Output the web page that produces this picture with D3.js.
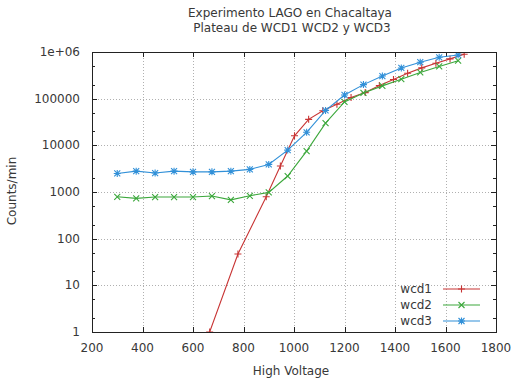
<!DOCTYPE html>
<html>
<head>
<meta charset="utf-8">
<script src="https://cdn.jsdelivr.net/npm/d3@7"></script>
<style>
  body { margin: 0; background: #fff; }
  text { font-family: "DejaVu Sans", sans-serif; fill: #383838; }
</style>
</head>
<body>
<svg id="chart"></svg>
<script>
// wcd1 was measured at its own voltages, wcd2 / wcd3 share a 75 V step
let wcd1Volts  = [666, 778, 890, 946, 1002, 1058, 1114, 1170, 1226, 1282, 1338, 1394, 1450, 1506, 1562, 1618, 1674];
let wcd1Counts = [1, 47, 790, 3600, 16000, 36000, 55000, 76000, 106000, 135000, 192000, 258000, 351000, 457000, 576000, 712000, 897000];

let volts23    = [300, 375, 450, 525, 600, 675, 750, 825, 900, 975, 1050, 1125, 1200, 1275, 1350, 1425, 1500, 1575, 1650];
let wcd2Counts = [790, 730, 780, 780, 780, 820, 680, 830, 980, 2200, 7500, 30000, 85000, 133000, 188000, 262000, 364000, 490000, 650000];
let wcd3Counts = [2500, 2800, 2550, 2800, 2700, 2700, 2800, 3050, 3900, 7900, 19000, 56000, 120000, 200000, 305000, 455000, 605000, 770000, 860000];

let xTicks = [200, 400, 600, 800, 1000, 1200, 1400, 1600, 1800];
let yTicks = [1, 10, 100, 1000, 10000, 100000, 1000000];
let yTickLabels = ["1", "10", "100", "1000", "10000", "100000", "1e+06"];

let seriesNames = ["wcd1", "wcd2", "wcd3"];
let colors = ["#c83434", "#3ca83c", "#3190d8"];

function markerPath(kind) {
    let a = 3.5, b = 3;
    let plus = `M${-a},0H${a}M0,${-a}V${a}`;
    let cross = `M${-b},${-b}L${b},${b}M${-b},${b}L${b},${-b}`;
    if (kind == 0) return plus;
    if (kind == 1) return cross;
    return plus + cross;
}

function drawChart() {
    let w = 513, h = 383;
    let left = 92, right = 496, top = 52, bottom = 332;

    let svg = d3.select("#chart")
        .attr("width", w)
        .attr("height", h);

    let x = d3.scaleLinear().domain([200, 1800]).range([left, right]);
    let y = d3.scaleLog().domain([1, 1e6]).range([bottom, top]);

    svg.append("clipPath").attr("id", "plotClip")
        .append("rect")
        .attr("x", left).attr("y", top)
        .attr("width", right - left).attr("height", bottom - top);

    // grid
    let grid = svg.append("g")
        .attr("stroke", "#b0b0b0")
        .attr("stroke-width", 1)
        .attr("stroke-dasharray", "1,2");
    grid.selectAll(".gx")
        .data(xTicks.slice(1, -1))
        .enter().append("line")
        .attr("x1", d => Math.round(x(d)) + 0.5).attr("x2", d => Math.round(x(d)) + 0.5)
        .attr("y1", top).attr("y2", bottom);
    grid.selectAll(".gy")
        .data(yTicks.slice(1, -1))
        .enter().append("line")
        .attr("y1", d => Math.round(y(d)) + 0.5).attr("y2", d => Math.round(y(d)) + 0.5)
        .attr("x1", left).attr("x2", right);

    // ticks (inward, mirrored)
    let ticks = svg.append("g").attr("stroke", "#222").attr("stroke-width", 1);
    let minorY = [];
    for (let e = 0; e < 6; e++) {
        minorY.push(2 * Math.pow(10, e), 5 * Math.pow(10, e));
    }
    xTicks.forEach(d => {
        let px = Math.round(x(d)) + 0.5;
        ticks.append("line").attr("x1", px).attr("x2", px).attr("y1", bottom).attr("y2", bottom - 5);
        ticks.append("line").attr("x1", px).attr("x2", px).attr("y1", top).attr("y2", top + 5);
    });
    yTicks.forEach(d => {
        let py = Math.round(y(d)) + 0.5;
        ticks.append("line").attr("x1", left).attr("x2", left + 5).attr("y1", py).attr("y2", py);
        ticks.append("line").attr("x1", right).attr("x2", right - 5).attr("y1", py).attr("y2", py);
    });
    minorY.forEach(d => {
        let py = Math.round(y(d)) + 0.5;
        ticks.append("line").attr("x1", left).attr("x2", left + 3).attr("y1", py).attr("y2", py);
        ticks.append("line").attr("x1", right).attr("x2", right - 3).attr("y1", py).attr("y2", py);
    });

    // tick labels
    svg.selectAll(".xl")
        .data(xTicks)
        .enter().append("text")
        .style("font-size", "12px")
        .style("text-anchor", "middle")
        .attr("x", d => x(d))
        .attr("y", bottom + 20)
        .text(d => d);
    svg.selectAll(".yl")
        .data(yTicks)
        .enter().append("text")
        .style("font-size", "12px")
        .style("text-anchor", "end")
        .attr("x", left - 12)
        .attr("y", d => y(d) + 4)
        .text((d, i) => yTickLabels[i]);

    // series
    let series = [
        wcd1Volts.map((v, i) => [v, wcd1Counts[i]]),
        volts23.map((v, i) => [v, wcd2Counts[i]]),
        volts23.map((v, i) => [v, wcd3Counts[i]])
    ];
    let line = d3.line().x(d => x(d[0])).y(d => y(d[1]));
    let plot = svg.append("g").attr("clip-path", "url(#plotClip)");
    series.forEach((data, k) => {
        plot.append("path")
            .datum(data)
            .attr("fill", "none")
            .attr("stroke", colors[k])
            .attr("stroke-width", 1.1)
            .attr("d", line);
        plot.selectAll(".m" + k)
            .data(data)
            .enter().append("path")
            .attr("transform", d => `translate(${x(d[0])},${y(d[1])})`)
            .attr("d", markerPath(k))
            .attr("fill", "none")
            .attr("stroke", colors[k])
            .attr("stroke-width", 1.1);
    });

    // border
    svg.append("rect")
        .attr("x", left + 0.5).attr("y", top + 0.5)
        .attr("width", right - left).attr("height", bottom - top)
        .attr("fill", "none").attr("stroke", "#222").attr("stroke-width", 1);

    // legend
    let legendY = [289, 305, 321];
    seriesNames.forEach((name, k) => {
        svg.append("text")
            .style("font-size", "12px")
            .style("text-anchor", "end")
            .attr("x", 432)
            .attr("y", legendY[k] + 4)
            .text(name);
        svg.append("line")
            .attr("x1", 443).attr("x2", 480)
            .attr("y1", legendY[k]).attr("y2", legendY[k])
            .attr("stroke", colors[k]).attr("stroke-width", 1.1);
        svg.append("path")
            .attr("transform", `translate(461.5,${legendY[k]})`)
            .attr("d", markerPath(k))
            .attr("fill", "none")
            .attr("stroke", colors[k])
            .attr("stroke-width", 1.1);
    });

    // titles
    svg.append("text")
        .style("font-size", "12px")
        .style("text-anchor", "middle")
        .attr("x", 290).attr("y", 17)
        .text("Experimento LAGO en Chacaltaya");
    svg.append("text")
        .style("font-size", "12px")
        .style("text-anchor", "middle")
        .attr("x", 292).attr("y", 32)
        .text("Plateau de WCD1 WCD2 y WCD3");
    svg.append("text")
        .style("font-size", "12px")
        .style("text-anchor", "middle")
        .attr("x", 291).attr("y", 375)
        .text("High Voltage");
    svg.append("text")
        .style("font-size", "12px")
        .style("text-anchor", "middle")
        .attr("transform", "translate(16,191) rotate(-90)")
        .text("Counts/min");
}

window.onload = function() {
    drawChart();
};
</script>
</body>
</html>
